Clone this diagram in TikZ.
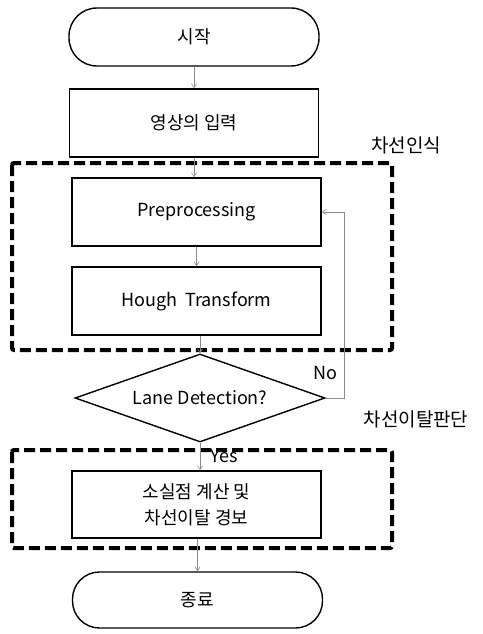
\documentclass[tikz,border=0pt]{standalone}
\usepackage{fontspec}
\setmainfont{Noto Sans CJK KR}
\usetikzlibrary{shapes.geometric,arrows.meta}
\begin{document}
\begin{tikzpicture}[x=1pt,y=-1pt,
  every node/.style={font=\fontsize{18}{22}\selectfont},
  procbox/.style={draw, line width=1.4pt, minimum width=249pt, minimum height=68pt, inner sep=0pt, align=center},
  termbox/.style={draw, line width=1.4pt, rounded corners=28pt, minimum width=250pt, minimum height=58pt, inner sep=0pt},
  decbox/.style={draw, line width=1.4pt, diamond, aspect=2.84, minimum width=250pt, minimum height=88pt, inner sep=0pt},
  groupbox/.style={line width=4pt, dash pattern=on 11pt off 5pt, rounded corners=2pt},
  flow/.style={draw=black!45, line width=0.6pt, -{Straight Barb[length=4pt,width=5pt]}},
  lbl/.style={font=\fontsize{19}{22}\selectfont}
]
\useasboundingbox (0,0) rectangle (482,634);
\node[termbox] (start) at (194,37) {시작};
\node[procbox] (input) at (194,123) {영상의 입력};
\node[procbox] (pre) at (196.5,212) {Preprocessing};
\node[procbox] (hough) at (196.5,301) {Hough\ \ Transform};
\node[decbox] (dec) at (200,398) {Lane Detection?};
\node[procbox, minimum height=67pt, font=\fontsize{18}{26}\selectfont] (calc) at (196.5,504.5) {소실점 계산 및\\차선이탈 경보};
\node[termbox, minimum height=56pt, rounded corners=27pt] (end) at (197.5,600) {종료};

\draw[groupbox] (12,163) rectangle (392,350);
\draw[groupbox] (12,450) rectangle (392,548);
\node[lbl] (g1) at (406,145) {차선인식};
\node[lbl] (g2) at (416,419) {차선이탈판단};

\draw[flow] (start.south) -- (input.north);
\draw[flow] (input.south) -- (pre.north -| input.south);
\draw[flow] (pre.south) -- (hough.north);
\draw[flow] (hough.south -| dec.north) -- (dec.north);
\draw[flow] (dec.south) -- (calc.north -| dec.south);
\draw[flow] (calc.south -| end.north) -- (end.north);
\draw[flow] (dec.east) -- ++(19,0) coordinate (fb) |- (pre.east);
\node (no) at (325,373) {No};
\node (yes) at (224,456) {Yes};
\end{tikzpicture}
\end{document}
